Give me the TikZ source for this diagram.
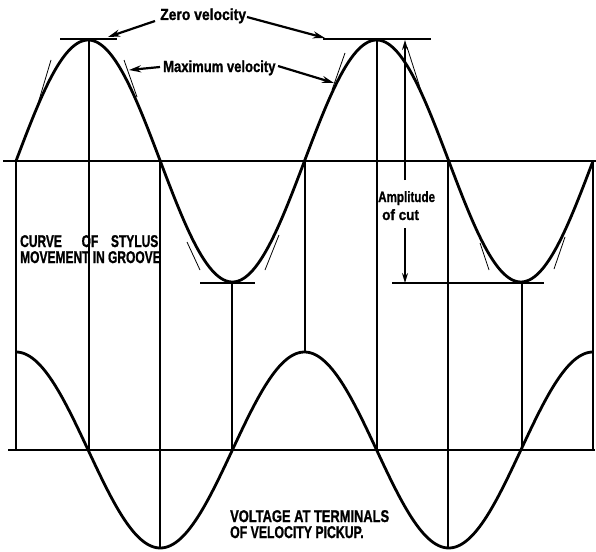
\documentclass[tikz,border=0pt]{standalone}
\usepackage{fontspec}
\usepackage{graphicx}
\usetikzlibrary{arrows.meta}
\newfontfamily\labfont[BoldFeatures={FakeBold=1.3}]{Liberation Sans}
\begin{document}
\begin{tikzpicture}[x=1pt,y=-1pt,
  wave/.style={line width=2.8pt,line join=round},
  guide/.style={line width=1.2pt},
  tangent/.style={line width=0.8pt},
  pointer/.style={line width=2.2pt,-{Stealth[length=12pt,width=7pt]}},
  ampline/.style={line width=1.4pt,-{Stealth[length=10pt,width=6pt]}},
  lbl/.style={font=\labfont\bfseries\fontsize{16}{18}\selectfont,inner sep=0pt,anchor=base west},
  lblsmall/.style={font=\labfont\bfseries\fontsize{15}{16}\selectfont,inner sep=0pt,anchor=base west},
  caps/.style={font=\labfont\bfseries\fontsize{17}{18}\selectfont,inner sep=0pt,anchor=base west}]
\useasboundingbox[fill=white] (0,0) rectangle (596,551);

% base lines
\draw[guide] (3,161) -- (596,161);
\draw[guide] (8,450) -- (595,450);

% vertical construction lines
\draw[guide] (16,161) -- (16,450);
\draw[guide] (89,39) -- (89,450);
\draw[guide] (160,161) -- (160,548);
\draw[guide] (232,283) -- (232,450);
\draw[guide] (305,161) -- (305,352);
\draw[guide] (377,39) -- (377,450);
\draw[guide] (448,161) -- (448,548);
\draw[guide] (522,283) -- (522,450);
\draw[guide] (593,161) -- (593,450);

% peak and trough lines
\draw[guide] (60,39) -- (117,39);
\draw[guide] (323,39) -- (431,39);
\draw[guide] (200,283) -- (255,283);
\draw[guide] (392,283) -- (544,283);

% tangent lines
\draw[tangent] (51,60) -- (37,107);
\draw[tangent] (124,60) -- (137,97);
\draw[tangent] (345,53) -- (332,90);
\draw[tangent] (407,47) -- (423,97);
\draw[tangent] (187,242) -- (200,270);
\draw[tangent] (279,235) -- (265,270);
\draw[tangent] (480,243) -- (489,270);
\draw[tangent] (565,237) -- (554,269);

% curves
\draw[wave] plot[domain=16:593,samples=240,smooth] (\x,{161-121*sin(1.247834*(\x-16))});
\draw[wave] plot[domain=16:593,samples=240,smooth] (\x,{450-98*cos(1.247834*(\x-16))});

% labels
\node[lbl] (zero) at (160,20) {\scalebox{0.87}[1]{Zero velocity}};
\node[lbl] (maxv) at (163,72) {\scalebox{0.815}[1]{Maximum velocity}};
\node[lblsmall] (amp1) at (378,202) {\scalebox{0.775}[1]{Amplitude}};
\node[lblsmall] (amp2) at (382,220) {\scalebox{0.9}[1]{of cut}};
\node[caps] (curve1) at (20,247) {\scalebox{0.705}[1]{CURVE\hspace{28pt}OF\hspace{18pt}STYLUS}};
\node[caps] (curve2) at (20,263) {\scalebox{0.705}[1]{MOVEMENT IN GROOVE}};
\node[caps] (volt1) at (230,522) {\scalebox{0.758}[1]{VOLTAGE AT TERMINALS}};
\node[caps] (volt2) at (230,538) {\scalebox{0.722}[1]{OF VELOCITY PICKUP.}};

% arrow end points
\coordinate (zeroLs) at (155,21);
\coordinate (zeroLt) at (108,37);
\coordinate (zeroRs) at (247,17);
\coordinate (zeroRt) at (325,38);
\coordinate (maxLs) at (160,67);
\coordinate (maxLt) at (129,70);
\coordinate (maxRs) at (278,66);
\coordinate (maxRt) at (334,83);
\coordinate (ampA) at (405,180);
\coordinate (ampTop) at (405,40);
\coordinate (ampB) at (405,228);
\coordinate (ampBot) at (405,283);

\draw[pointer] (zeroLs) -- (zeroLt);
\draw[pointer] (zeroRs) -- (zeroRt);
\draw[pointer] (maxLs) -- (maxLt);
\draw[pointer] (maxRs) -- (maxRt);
\draw[ampline] (ampA) -- (ampTop);
\draw[ampline] (ampB) -- (ampBot);
\end{tikzpicture}
\end{document}
